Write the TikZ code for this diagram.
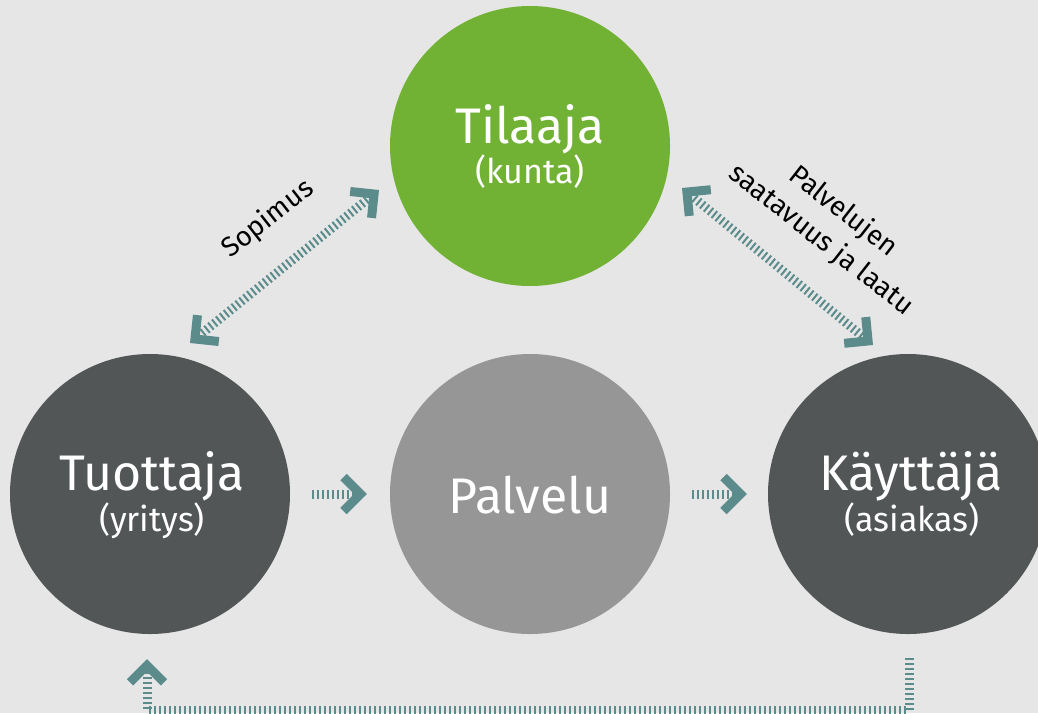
\documentclass[tikz,border=0pt]{standalone}
\usepackage{fontspec}
\setmainfont{Fira Sans}
\usetikzlibrary{arrows.meta}
\definecolor{bg}{HTML}{E6E6E6}
\definecolor{cgreen}{HTML}{71B235}
\definecolor{cgray}{HTML}{959695}
\definecolor{cdark}{HTML}{525657}
\definecolor{teal}{HTML}{5B8C8B}
\tikzset{
  circ/.style={circle, minimum size=280pt, inner sep=0pt, draw=none},
  big/.style={text=white, font=\fontsize{50}{52}\selectfont, anchor=base, inner sep=0pt},
  small/.style={text=white, font=\fontsize{34}{36}\selectfont, anchor=base, inner sep=0pt},
  lab/.style={text=black, font=\fontsize{27.5}{36}\selectfont, align=center, inner sep=0pt},
  chev/.tip={Straight Barb[angle=90:24pt, line width=9pt, sharp, color=teal]},
  conn/.style={draw=teal, line width=9pt, dash pattern=on 2pt off 3pt},
}
\begin{document}
\begin{tikzpicture}[x=1pt,y=-1pt]
\useasboundingbox (0,0) rectangle (1038,713);
\clip (0,0) rectangle (1038,713);
\fill[bg] (0,0) rectangle (1038,713);

\node[circ, fill=cgreen] (tilaaja) at (530,146) {};
\node[circ, fill=cdark] (tuottaja) at (150,494) {};
\node[circ, fill=cgray] (palvelu) at (530,494) {};
\node[circ, fill=cdark] (kayttaja) at (908,494) {};

\node[big] (t1) at (530,143) {Tilaaja};
\node[small] (t2) at (530,183) {(kunta)};
\node[big] (u1) at (152,490) {Tuottaja};
\node[small] (u2) at (152,531) {(yritys)};
\node[big] (p1) at (530,513) {Palvelu};
\node[big] (k1) at (911,490) {Käyttäjä};
\node[small] (k2) at (912,531) {(asiakas)};

\node[lab, rotate=38] (sop) at (268,219) {Sopimus};
\node[lab, rotate=-38] (pal) at (832,226) {Palvelujen\\saatavuus ja laatu};

\coordinate (s1) at (190,343);
\coordinate (s2) at (379,190);
\coordinate (r1) at (682,188);
\coordinate (r2) at (873,345);
\coordinate (b1) at (909,658);
\coordinate (b2) at (909,710);
\coordinate (b3) at (147,710);
\coordinate (b4) at (147,659);

\draw[conn, chev-chev] (s1) -- (s2);
\draw[conn, chev-chev] (r1) -- (r2);
\draw[conn, -chev] ([xshift=22pt]tuottaja.east) -- ([xshift=-23pt]palvelu.west);
\draw[conn, -chev] ([xshift=22pt]palvelu.east) -- ([xshift=-21pt]kayttaja.west);
\draw[conn, -chev] (b1) -- (b2) -- (b3) -- (b4);
\end{tikzpicture}
\end{document}
